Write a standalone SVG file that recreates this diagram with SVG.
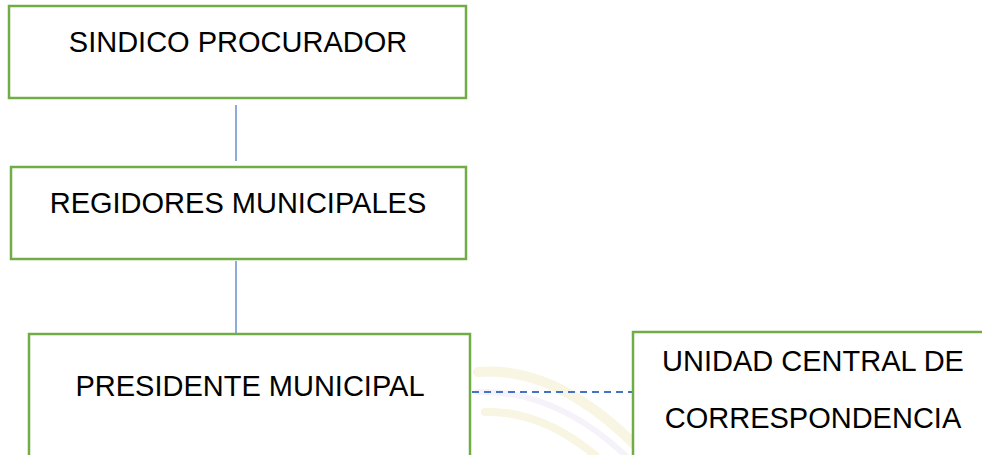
<svg xmlns="http://www.w3.org/2000/svg" width="982" height="455" viewBox="0 0 982 455">
<style>
.box{fill:#ffffff;stroke:#70AD47;stroke-width:2.5}
.lbl{font-family:"Liberation Sans",Arial,sans-serif;font-size:29px;fill:#000000;text-anchor:middle}
.con{stroke:#4472C4;stroke-width:1.2;fill:none}
.dash{stroke:#4472C4;stroke-width:2;stroke-dasharray:7 5;fill:none}
.wm{fill:none;stroke-linecap:round}
</style>
<rect width="982" height="455" fill="#ffffff"/>
<g id="watermark" opacity="0.5">
<path class="wm" d="M478 372 Q560 365 645 455" stroke="#f3ecc8" stroke-width="10"/>
<path class="wm" d="M478 392 Q555 390 625 455" stroke="#ece8f4" stroke-width="6"/>
<path class="wm" d="M485 412 Q540 410 595 455" stroke="#f3ecc8" stroke-width="8"/>
</g>
<g id="connectors">
<line class="con" x1="236" y1="105" x2="236" y2="161"/>
<line class="con" x1="236" y1="261" x2="236" y2="333"/>
<line class="dash" x1="472" y1="392" x2="632" y2="392"/>
</g>
<g id="sindico">
<rect class="box" x="9" y="6" width="457" height="92"/>
<text class="lbl" x="238" y="52">SINDICO PROCURADOR</text>
</g>
<g id="regidores">
<rect class="box" x="11" y="167" width="455" height="92"/>
<text class="lbl" x="238" y="213">REGIDORES MUNICIPALES</text>
</g>
<g id="presidente">
<rect class="box" x="29" y="334" width="441" height="140"/>
<text class="lbl" x="250" y="396">PRESIDENTE MUNICIPAL</text>
</g>
<g id="unidad">
<rect class="box" x="633" y="332" width="380" height="140"/>
<text class="lbl" x="813" y="371">UNIDAD CENTRAL DE</text>
<text class="lbl" x="813" y="428">CORRESPONDENCIA</text>
</g>
</svg>
